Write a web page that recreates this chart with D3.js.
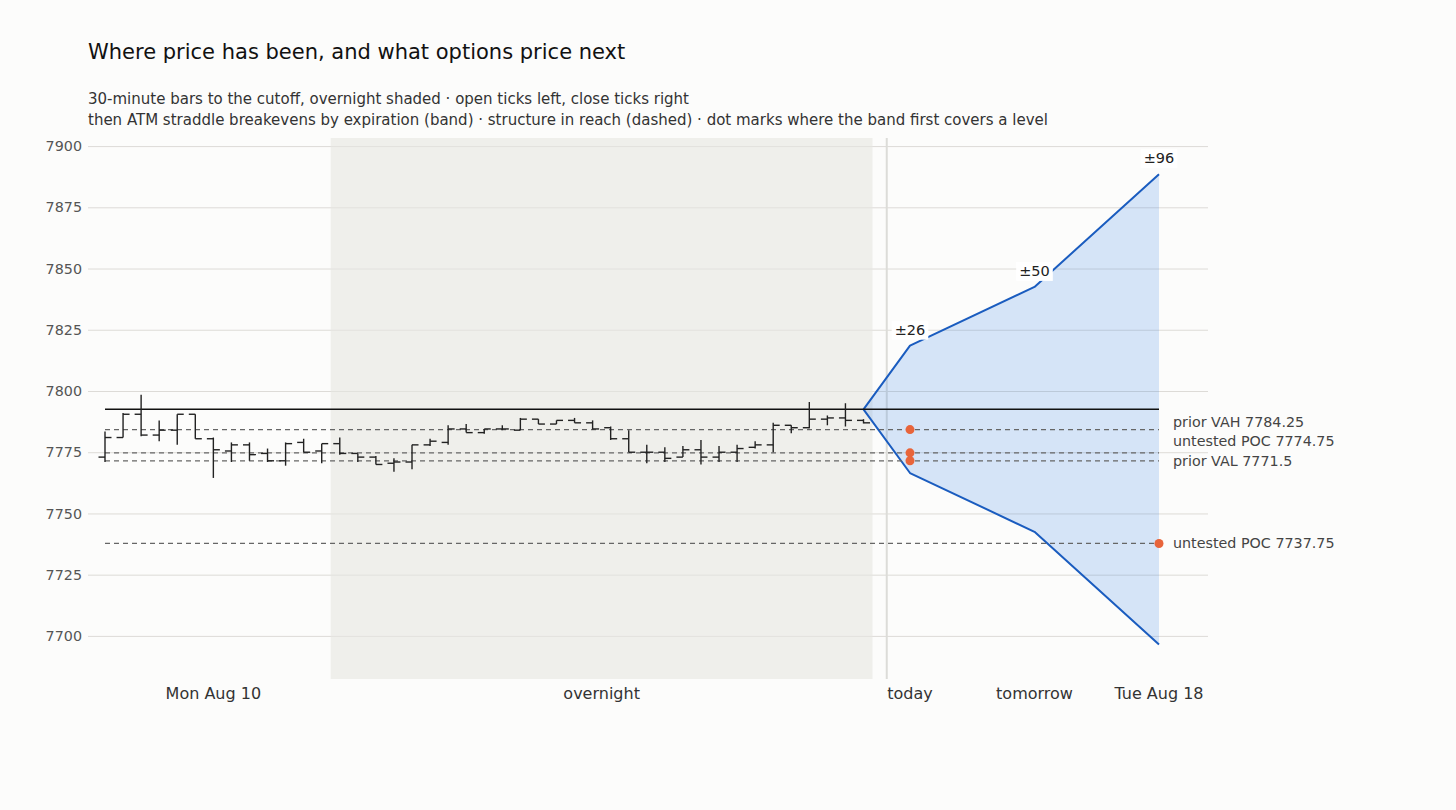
<!DOCTYPE html>
<html>
<head>
<meta charset="utf-8">
<style>
  body{
    margin: 0;
    background: #fcfcfb;
    font-family: 'DejaVu Sans', sans-serif;
  }
</style>
</head>
<body>
<svg id='chart'></svg>

<script src="https://cdn.jsdelivr.net/npm/d3@7/dist/d3.min.js"></script>
<script>

// 30-minute bars, Mon Aug 10 session (first 13) then overnight
var barOpen  = [7773, 7781, 7790.5, 7782, 7784, 7790.5, 7780.5, 7775.5, 7778, 7774.5, 7771.5, 7779, 7775.5,
                7778.5, 7774.5, 7773, 7770.5, 7771, 7778, 7779, 7784.5, 7783, 7784.5, 7784, 7788.5, 7786.5, 7788,
                7787, 7785, 7780.5, 7775, 7775, 7773, 7776, 7773, 7775, 7777, 7778, 7786, 7785, 7788.5, 7789, 7788];
var barHigh  = [7783.5, 7791, 7798.5, 7788, 7790.5, 7790.5, 7781, 7779, 7779, 7776.5, 7779, 7780.5, 7778.5,
                7781, 7774.5, 7773.5, 7772.5, 7778, 7780.5, 7786, 7786.5, 7784.5, 7786, 7789, 7788.5, 7788, 7789,
                7788, 7785.5, 7784, 7778, 7777, 7777.5, 7780, 7777.5, 7778, 7779.5, 7787, 7786, 7795.5, 7790, 7795, 7788.5];
var barLow   = [7771, 7781, 7781.5, 7779.5, 7778, 7780.5, 7764.5, 7771, 7771.5, 7771, 7769.5, 7775, 7770.5,
                7774, 7771, 7770, 7767, 7768, 7777.5, 7778, 7783, 7782.5, 7784, 7784, 7786.5, 7786.5, 7787,
                7784.25, 7780, 7775, 7770.5, 7771, 7773, 7770, 7771, 7771, 7776.5, 7775, 7782.75, 7784.75, 7786, 7785.5, 7786.75];
var barClose = [7781, 7790.5, 7782, 7784, 7790.5, 7780.5, 7776, 7778, 7774, 7771.5, 7778.5, 7775, 7778.5,
                7774.5, 7773, 7770, 7771, 7778, 7779.5, 7784.5, 7783, 7784.5, 7784.5, 7788.5, 7786.5, 7788, 7787,
                7784.5, 7780.5, 7775, 7775, 7772.5, 7776, 7773, 7775, 7776.5, 7778, 7786, 7785, 7788.5, 7789, 7788, 7787];
var sessionBars = 13;

var spot = 7792.5;
var expiries = ["today", "tomorrow", "Tue Aug 18"];
var straddle = [26, 50, 96];

var levelNames  = ["prior VAH", "untested POC", "prior VAL", "untested POC"];
var levelPrices = [7784.25, 7774.75, 7771.5, 7737.75];

var yTicks = [7700, 7725, 7750, 7775, 7800, 7825, 7850, 7875, 7900];

var width = 1456, height = 810;
var plotTop = 138, plotBottom = 679, plotLeft = 88, plotRight = 1208;

var svg = d3.select("#chart")
    .attr("width", width)
    .attr("height", height);

svg.append("rect")
    .attr("width", width).attr("height", height)
    .attr("fill", "#fcfcfb");

var y = d3.scaleLinear().domain([7682.4, 7903.3]).range([plotBottom, plotTop]);
var xBar = d3.scaleLinear().domain([0, barOpen.length - 1]).range([105, 863.5]);
var xExp = d3.scalePoint().domain(expiries).range([910, 1159]);
var cutoffX = (xBar(barOpen.length - 1) + xExp(expiries[0])) / 2;

// title
svg.append("text")
    .attr("x", 88).attr("y", 59)
    .style("font-size", "21px").attr("fill", "#111")
    .text("Where price has been, and what options price next");

svg.append("text")
    .attr("x", 88).attr("y", 104)
    .style("font-size", "15px").attr("fill", "#333")
    .text("30-minute bars to the cutoff, overnight shaded \u00b7 open ticks left, close ticks right");
svg.append("text")
    .attr("x", 88).attr("y", 125)
    .style("font-size", "15px").attr("fill", "#333")
    .text("then ATM straddle breakevens by expiration (band) \u00b7 structure in reach (dashed) \u00b7 dot marks where the band first covers a level");

// grid + y labels
var yAxis = d3.axisLeft(y).tickValues(yTicks).tickSize(-(plotRight - plotLeft)).tickPadding(6).tickFormat(d3.format("d"));
var gy = svg.append("g")
    .attr("transform", "translate(" + plotLeft + ",0)")
    .call(yAxis);
gy.select(".domain").remove();
gy.selectAll(".tick line").attr("stroke", "#dddbd7").attr("stroke-width", 1);
gy.selectAll(".tick text")
    .attr("fill", "#555")
    .style("font-size", "14.3px")
    .style("font-family", "'DejaVu Sans', sans-serif");

// overnight shade
svg.append("rect")
    .attr("x", xBar(sessionBars - 0.5))
    .attr("y", plotTop)
    .attr("width", xBar(barOpen.length - 0.5) - xBar(sessionBars - 0.5))
    .attr("height", plotBottom - plotTop)
    .attr("fill", "#e6e6e1")
    .attr("opacity", 0.6);

// cutoff
svg.append("line")
    .attr("x1", cutoffX).attr("x2", cutoffX)
    .attr("y1", plotTop).attr("y2", plotBottom)
    .attr("stroke", "#dcdcd8").attr("stroke-width", 2);

// band
var lastX = xBar(barOpen.length - 1);
var band = [{x: lastX, lo: spot, hi: spot}];
expiries.forEach(function(e, i) {
  band.push({x: xExp(e), lo: spot - straddle[i], hi: spot + straddle[i], label: "\u00b1" + straddle[i]});
});

svg.append("path")
    .datum(band)
    .attr("d", d3.area().x(function(d) { return d.x; }).y0(function(d) { return y(d.lo); }).y1(function(d) { return y(d.hi); }))
    .attr("fill", "#1a73e8").attr("opacity", 0.17);

["hi", "lo"].forEach(function(k) {
  svg.append("path")
      .datum(band)
      .attr("d", d3.line().x(function(d) { return d.x; }).y(function(d) { return y(d[k]); }))
      .attr("fill", "none")
      .attr("stroke", "#1a5cbf")
      .attr("stroke-width", 2)
      .attr("stroke-linejoin", "round");
});

// levels
var levelX1 = xBar(0), levelX2 = xExp(expiries[expiries.length - 1]);
svg.selectAll(".level")
    .data(levelPrices)
    .enter().append("line")
    .attr("x1", levelX1).attr("x2", levelX2)
    .attr("y1", function(d) { return y(d); }).attr("y2", function(d) { return y(d); })
    .attr("stroke", "#666").attr("stroke-width", 1.2)
    .attr("stroke-dasharray", "5,4");

// spot line
svg.append("line")
    .attr("x1", levelX1).attr("x2", levelX2)
    .attr("y1", y(spot)).attr("y2", y(spot))
    .attr("stroke", "#111").attr("stroke-width", 1.5);

// OHLC bars
var bars = barOpen.map(function(o, i) {
  return {i: i, o: o, h: barHigh[i], l: barLow[i], c: barClose[i]};
});
var tick = 6.5;
var gb = svg.append("g").attr("stroke", "#222").attr("stroke-width", 1.4);
gb.selectAll(".hl").data(bars).enter().append("line")
    .attr("x1", function(d) { return xBar(d.i); }).attr("x2", function(d) { return xBar(d.i); })
    .attr("y1", function(d) { return y(d.h); }).attr("y2", function(d) { return y(d.l); });
gb.selectAll(".op").data(bars).enter().append("line")
    .attr("x1", function(d) { return xBar(d.i) - tick; }).attr("x2", function(d) { return xBar(d.i); })
    .attr("y1", function(d) { return y(d.o); }).attr("y2", function(d) { return y(d.o); });
gb.selectAll(".cl").data(bars).enter().append("line")
    .attr("x1", function(d) { return xBar(d.i); }).attr("x2", function(d) { return xBar(d.i) + tick; })
    .attr("y1", function(d) { return y(d.c); }).attr("y2", function(d) { return y(d.c); });

// dots: first expiry whose band covers the level
var dots = [];
levelPrices.forEach(function(p) {
  for (var i = 0; i < expiries.length; i++) {
    if (p >= spot - straddle[i] && p <= spot + straddle[i]) {
      dots.push({x: xExp(expiries[i]), p: p});
      break;
    }
  }
});
svg.selectAll(".dot").data(dots).enter().append("circle")
    .attr("cx", function(d) { return d.x; })
    .attr("cy", function(d) { return y(d.p); })
    .attr("r", 4.5)
    .attr("fill", "#e8643a");

// band labels with white box
band.slice(1).forEach(function(d) {
  var g = svg.append("g");
  var t = g.append("text")
      .attr("x", d.x).attr("y", y(d.hi) - 16)
      .attr("text-anchor", "middle")
      .attr("dominant-baseline", "central")
      .style("font-size", "14.5px")
      .attr("fill", "#222")
      .text(d.label);
  var bb = t.node().getBBox();
  g.insert("rect", "text")
      .attr("x", bb.x - 3).attr("y", bb.y - 1)
      .attr("width", bb.width + 6).attr("height", bb.height + 3)
      .attr("fill", "#fff");
});

// level labels, pushed apart from the bottom up
var labels = levelPrices.map(function(p, i) {
  return {text: levelNames[i] + " " + p, y: y(p)};
}).sort(function(a, b) { return b.y - a.y; });
var gap = 19.5;
for (var k = 1; k < labels.length; k++) {
  if (labels[k - 1].y - labels[k].y < gap) labels[k].y = labels[k - 1].y - gap;
}
svg.selectAll(".lvl-label").data(labels).enter().append("text")
    .attr("x", 1173)
    .attr("y", function(d) { return d.y; })
    .attr("dominant-baseline", "central")
    .style("font-size", "14.3px")
    .attr("fill", "#444")
    .text(function(d) { return d.text; });

// x labels
var xLabels = [
  {text: "Mon Aug 10", x: xBar((sessionBars - 1) / 2)},
  {text: "overnight", x: xBar((sessionBars - 0.5 + barOpen.length - 0.5) / 2)}
];
expiries.forEach(function(e) { xLabels.push({text: e, x: xExp(e)}); });
svg.selectAll(".xl").data(xLabels).enter().append("text")
    .attr("x", function(d) { return d.x; })
    .attr("y", 693)
    .attr("text-anchor", "middle")
    .attr("dominant-baseline", "central")
    .style("font-size", "16px")
    .attr("fill", "#333")
    .text(function(d) { return d.text; });

</script>
</body>
</html>
